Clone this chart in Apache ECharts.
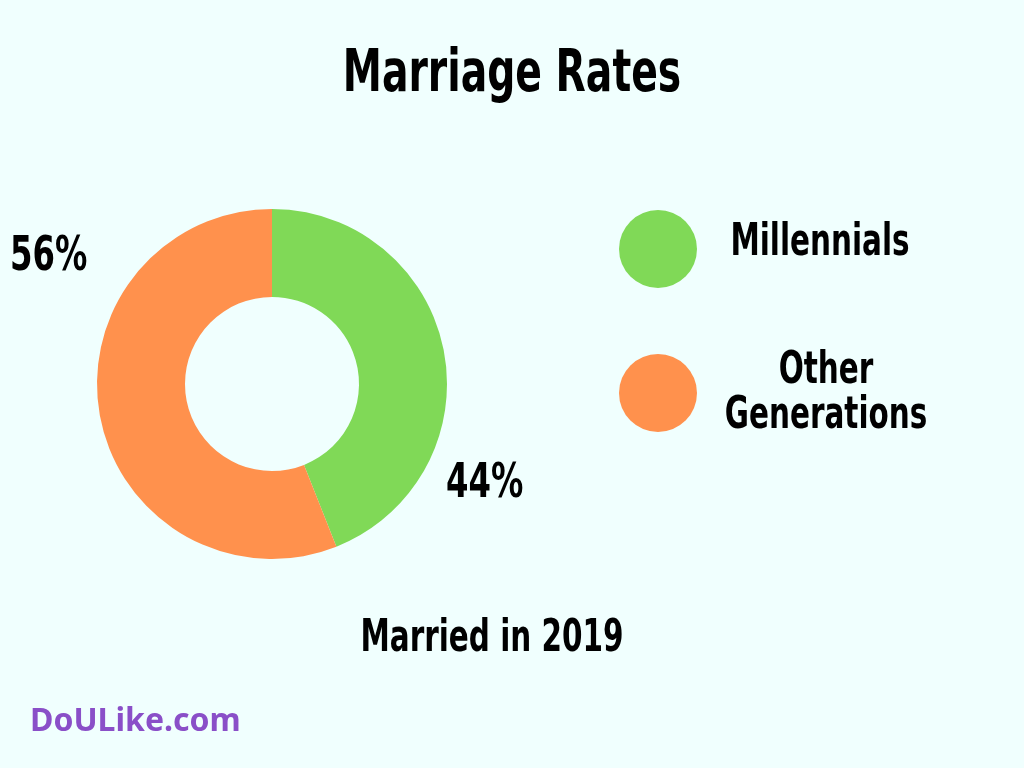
<!DOCTYPE html>
<html>
<head>
<meta charset="utf-8">
<script src="https://cdn.jsdelivr.net/npm/echarts@6/dist/echarts.min.js"></script>
<style>html,body{margin:0;padding:0;background:#f0fffe;}#main{width:1024px;height:768px;}</style>
</head>
<body>
<div id="main"></div>
<script>
var categories = ['Millennials', 'Other\nGenerations'];
var values = [44, 56];
var colors = ['#80d957', '#ff914d'];
var FONT = '"Liberation Sans Narrow", "DejaVu Sans Condensed", sans-serif';

var myChart = echarts.init(document.getElementById('main'));
var data = [];
for (var i = 0; i < categories.length; i++) {
    data.push({ name: categories[i], value: values[i], itemStyle: { color: colors[i] } });
}

// condensed-looking text: squeeze horizontally around its anchor
function txt(x, y, s, size, align, fill) {
    return {
        type: 'text', x: x, y: y, scaleX: 0.78, scaleY: 1.05,
        style: { text: s, font: 'bold ' + size + 'px ' + FONT, fill: fill || '#000',
                 textAlign: align || 'left', textVerticalAlign: 'middle', lineHeight: size }
    };
}

myChart.setOption({
    backgroundColor: '#f0fffe',
    legend: {
        orient: 'vertical',
        left: 614,
        top: 205,
        itemWidth: 78,
        itemHeight: 78,
        itemGap: 66,
        icon: 'circle',
        data: categories,
        formatter: function () { return ''; }
    },
    graphic: [
        txt(512, 76, 'Marriage Rates', 56, 'center'),
        txt(820, 244, categories[0], 42, 'center'),
        txt(826, 394, categories[1], 42, 'center'),
        txt(10, 257, values[1] + '%', 46),
        txt(446, 484, values[0] + '%', 46),
        txt(492, 640, 'Married in 2019', 42, 'center'),
        {
            type: 'text', x: 30, y: 722,
            style: { text: 'DoULike.com', font: 'bold 32px "Noto Sans", sans-serif',
                     fill: '#8a4fc8', textVerticalAlign: 'middle' }
        }
    ],
    series: [{
        type: 'pie',
        center: [272, 384],
        radius: [87, 175],
        startAngle: 90,
        clockwise: true,
        label: { show: false },
        labelLine: { show: false },
        silent: true,
        data: data
    }]
});
window.onresize = myChart.resize;
</script>
</body>
</html>
